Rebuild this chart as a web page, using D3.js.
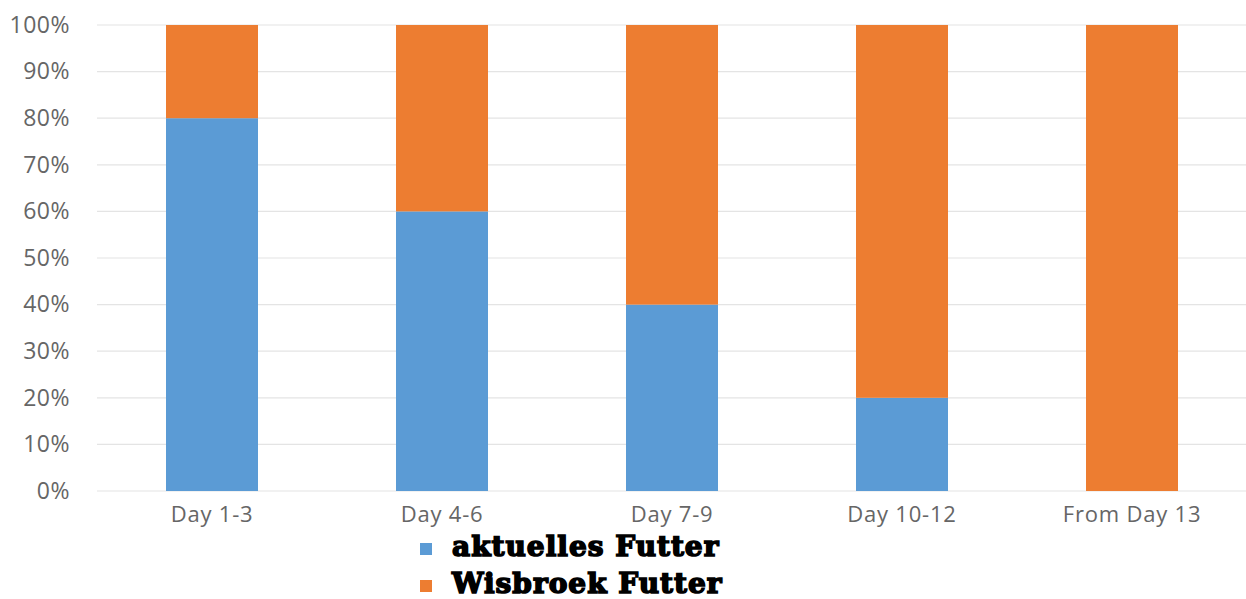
<!DOCTYPE html>
<html>
<head>
<meta charset="utf-8">
<script src="https://cdn.jsdelivr.net/npm/d3@7"></script>
<style>
  body { margin: 0; background: #fff; }
  svg { display: block; }
</style>
</head>
<body>
<div id="chart"></div>
<script>
// data
const categories = ["Day 1-3", "Day 4-6", "Day 7-9", "Day 10-12", "From Day 13"];
const seriesNames = ["aktuelles Futter", "Wisbroek Futter"];
const aktuelles = [0.8, 0.6, 0.4, 0.2, 0];
const wisbroek = [0.2, 0.4, 0.6, 0.8, 1.0];
const yTicks = [0, 0.1, 0.2, 0.3, 0.4, 0.5, 0.6, 0.7, 0.8, 0.9, 1.0];
const colors = ["#5b9bd5", "#ed7d31"];

const W = 1246, H = 599;
const plot = {left: 97, right: 1247, top: 25, bottom: 491};

const svg = d3.select("#chart").append("svg")
    .attr("width", W)
    .attr("height", H);

const x = d3.scaleBand()
    .domain(categories)
    .range([plot.left, plot.right])
    .paddingInner(0.6)
    .paddingOuter(0.3);

const y = d3.scaleLinear()
    .domain([0, 1])
    .range([plot.bottom, plot.top]);

// gridlines
svg.append("g")
  .selectAll("line")
  .data(yTicks)
  .join("line")
    .attr("x1", plot.left)
    .attr("x2", plot.right)
    .attr("y1", d => y(d))
    .attr("y2", d => y(d))
    .attr("stroke", "#e4e4e4")
    .attr("stroke-width", 1.2);

// y axis labels
const yAxis = svg.append("g")
    .attr("transform", `translate(${plot.left},0)`)
    .call(d3.axisLeft(y).tickValues(yTicks).tickFormat(d3.format(".0%")).tickSize(0).tickPadding(27));
yAxis.select(".domain").remove();
yAxis.selectAll("text")
    .attr("fill", "#666")
    .style("font-family", "'Open Sans', sans-serif")
    .style("font-size", "23px")
    .style("letter-spacing", "0.5px");

// stacked data
const rows = categories.map((c, i) => ({cat: c, "aktuelles Futter": aktuelles[i], "Wisbroek Futter": wisbroek[i]}));
const stacked = d3.stack().keys(seriesNames)(rows);

svg.append("g")
  .selectAll("g")
  .data(stacked)
  .join("g")
    .attr("fill", (d, i) => colors[i])
  .selectAll("rect")
  .data(d => d)
  .join("rect")
    .attr("x", d => x(d.data.cat))
    .attr("width", x.bandwidth())
    .attr("y", d => y(d[1]))
    .attr("height", d => y(d[0]) - y(d[1]));

// x axis labels
const xAxis = svg.append("g")
    .attr("transform", `translate(0,${plot.bottom})`)
    .call(d3.axisBottom(x).tickSize(0).tickPadding(15));
xAxis.select(".domain").remove();
xAxis.selectAll("text")
    .attr("fill", "#666")
    .style("font-family", "'Open Sans', sans-serif")
    .style("font-size", "22px")
    .style("letter-spacing", "0.8px");

// legend
const legend = svg.append("g")
    .selectAll("g")
    .data(seriesNames)
    .join("g")
    .attr("transform", (d, i) => `translate(420,${543 + i * 37})`);

legend.append("rect")
    .attr("width", 12)
    .attr("height", 12)
    .attr("fill", (d, i) => colors[i]);

legend.append("text")
    .attr("x", 32)
    .attr("y", 13)
    .text(d => d)
    .attr("fill", "#000")
    .attr("stroke", "#000")
    .attr("stroke-width", 1.6)
    .style("font-family", "'DejaVu Serif', serif")
    .style("font-weight", "bold")
    .style("font-size", "28px")
    .style("letter-spacing", "1px");
</script>
</body>
</html>
